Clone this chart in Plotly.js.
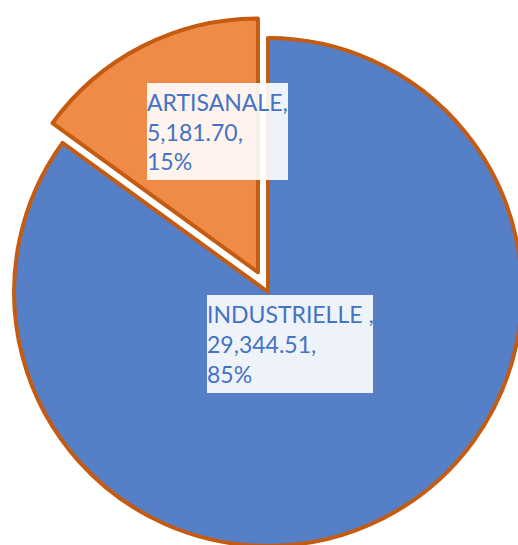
<!DOCTYPE html>
<html>
<head>
<meta charset="utf-8">
<script src="https://cdn.plot.ly/plotly-3.0.1.min.js"></script>
<style>
html, body { margin:0; padding:0; overflow:hidden; width:518px; height:545px; background:#fff; }
#chart { position:absolute; left:-8px; top:0; width:552px; height:584px; }
</style>
</head>
<body>
<div id="chart"></div>
<script>
const categories = ["INDUSTRIELLE ", "ARTISANALE"];
const values = [29344.51, 5181.70];
const sliceColors = ["#5580C8", "#EF8B47"];
const pulls = [0, 0.087];

const W = 552, H = 584, SHIFT = 8;
const total = values.reduce((a, b) => a + b, 0);
const fmt = v => v.toLocaleString("en-US", {minimumFractionDigits: 2, maximumFractionDigits: 2});
const labelText = i => categories[i] + ",<br>" + fmt(values[i]) + ",<br>" + Math.round(values[i] / total * 100) + "%";

// label boxes (pixel positions in the window)
const boxes = [
  {x: 207, y: 295, w: 166, h: 98},
  {x: 147, y: 83, w: 141, h: 97}
];

const annotations = boxes.map((b, i) => ({
  xref: "paper", yref: "paper",
  x: (b.x + SHIFT) / W, y: 1 - b.y / H,
  xanchor: "left", yanchor: "top",
  width: b.w, height: b.h,
  align: "left", valign: "middle",
  showarrow: false,
  bgcolor: "rgba(255,255,255,0.9)",
  borderwidth: 0,
  borderpad: 0,
  text: labelText(i),
  font: {family: "Lato, sans-serif", size: 23, color: "#4472C4"}
}));

Plotly.newPlot("chart", [{
  type: "pie",
  labels: categories,
  values: values,
  sort: false,
  direction: "clockwise",
  rotation: 0,
  pull: pulls,
  textinfo: "none",
  hoverinfo: "none",
  marker: {colors: sliceColors, line: {color: "#C55A11", width: 4}},
  domain: {x: [0, 1], y: [0, 1]}
}], {
  width: W, height: H,
  margin: {l: 0, r: 0, t: 0, b: 0},
  showlegend: false,
  paper_bgcolor: "#fff",
  annotations: annotations
}, {staticPlot: true, displayModeBar: false});
</script>
</body>
</html>
